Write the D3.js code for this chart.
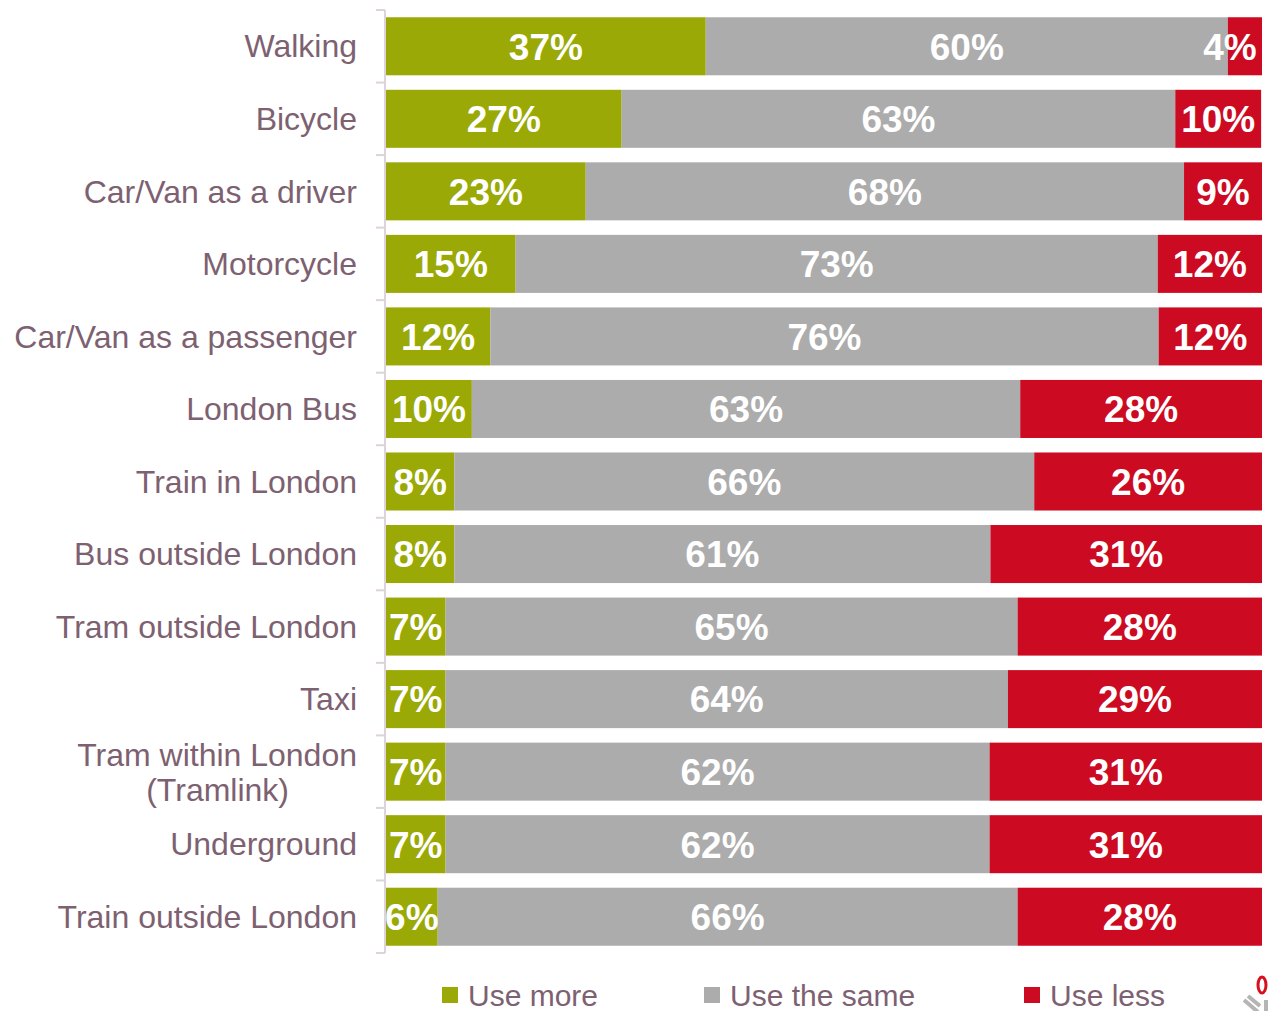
<!DOCTYPE html>
<html>
<head>
<meta charset="utf-8">
<script src="https://cdn.jsdelivr.net/npm/d3@7"></script>
<style>
  body { margin: 0; background: #fff; }
  svg { display: block; font-family: "Liberation Sans", Arial, sans-serif; }
</style>
</head>
<body>
<svg id="chart"></svg>
<script>
// categories, top to bottom
const modes = [
  'Walking', 'Bicycle', 'Car/Van as a driver', 'Motorcycle', 'Car/Van as a passenger',
  'London Bus', 'Train in London', 'Bus outside London', 'Tram outside London', 'Taxi',
  'Tram within London (Tramlink)', 'Underground', 'Train outside London'
];
const seriesNames = ['Use more', 'Use the same', 'Use less'];
// shares in %
const useMore = [36.5, 26.9, 22.8, 14.8, 11.9, 9.8, 7.8, 7.8, 6.8, 6.8, 6.8, 6.8, 5.9];
const useSame = [59.6, 63.2, 68.3, 73.3, 76.3, 62.6, 66.2, 61.2, 65.3, 64.2, 62.1, 62.1, 66.2];
const useLess = [3.9, 9.8, 8.9, 11.9, 11.9, 27.6, 26.0, 31.1, 27.9, 29.0, 31.1, 31.1, 27.9];
const colors = ['#9aa905', '#acacac', '#cc0a21'];

const width = 1270, height = 1011;
const margin = { top: 10, right: 8, bottom: 58, left: 386 };

const svg = d3.select('#chart').attr('width', width).attr('height', height);

const data = modes.map((m, i) => ({ mode: m, vals: [useMore[i], useSame[i], useLess[i]] }));

const yScale = d3.scaleBand()
  .domain(modes)
  .range([margin.top, height - margin.bottom])
  .paddingInner(0.2)
  .paddingOuter(0.1);

const xScale = d3.scaleLinear().domain([0, 100]).range([margin.left, width - margin.right]);

// axis line with ticks between categories
const axisX = margin.left - 1;
const axisG = svg.append('g').attr('class', 'axis');
axisG.append('line')
  .attr('x1', axisX).attr('x2', axisX)
  .attr('y1', margin.top).attr('y2', height - margin.bottom)
  .attr('stroke', '#ddd3d9').attr('stroke-width', 2);
const tickYs = d3.range(modes.length + 1).map(i =>
  margin.top + i * (height - margin.bottom - margin.top) / modes.length);
axisG.selectAll('.tick')
  .data(tickYs)
  .join('line')
  .attr('x1', axisX - 9).attr('x2', axisX)
  .attr('y1', d => d).attr('y2', d => d)
  .attr('stroke', '#ddd3d9').attr('stroke-width', 2);

// category labels
const labelG = svg.append('g');
data.forEach(d => {
  const yc = yScale(d.mode) + yScale.bandwidth() / 2;
  const t = labelG.append('text')
    .attr('x', 357)
    .attr('text-anchor', 'end')
    .attr('fill', '#7d6171')
    .attr('font-size', 32);
  if (d.mode === 'Tram within London (Tramlink)') {
    t.append('tspan').attr('x', 357).attr('y', yc - 17).attr('dy', '0.35em').text('Tram within London');
    t.append('tspan').attr('x', 289).attr('y', yc + 18).attr('dy', '0.35em').text('(Tramlink)');
  } else {
    t.attr('y', yc).attr('dy', '0.35em').text(d.mode);
  }
});

// stacked bars
const rows = svg.append('g').selectAll('g.row')
  .data(data)
  .join('g')
  .attr('class', 'row')
  .attr('transform', d => `translate(0,${yScale(d.mode)})`);

rows.each(function (d) {
  let acc = 0;
  const segs = d.vals.map((v, k) => {
    const s = { k, v, x0: acc, x1: acc + v };
    acc += v;
    return s;
  });
  const g = d3.select(this);
  g.selectAll('rect')
    .data(segs)
    .join('rect')
    .attr('x', s => xScale(s.x0))
    .attr('width', s => Math.min(xScale(s.x1), xScale.range()[1]) - xScale(s.x0))
    .attr('y', 0)
    .attr('height', yScale.bandwidth())
    .attr('fill', s => colors[s.k]);
  g.selectAll('text')
    .data(segs)
    .join('text')
    .attr('x', s => {
      const cx = (xScale(s.x0) + Math.min(xScale(s.x1), xScale.range()[1])) / 2;
      const w = String(Math.round(s.v)).length * 20 + 34;
      return Math.min(cx, 1257 - w / 2);
    })
    .attr('y', yScale.bandwidth() / 2)
    .attr('dy', '0.36em')
    .attr('text-anchor', 'middle')
    .attr('fill', '#fff')
    .attr('font-weight', 'bold')
    .attr('font-size', 37)
    .text(s => Math.round(s.v) + '%');
});

// legend
const legendX = [442, 704, 1024];
const legend = svg.append('g').selectAll('g')
  .data(seriesNames)
  .join('g')
  .attr('transform', (d, i) => `translate(${legendX[i]},993)`);
legend.append('rect')
  .attr('x', 0).attr('y', -6).attr('width', 16).attr('height', 16)
  .attr('fill', (d, i) => colors[i]);
legend.append('text')
  .attr('x', 26).attr('y', 2).attr('dy', '0.36em')
  .attr('fill', '#7d6171')
  .attr('font-size', 30)
  .text(d => d);

// small logo mark, bottom right
const logo = svg.append('g').attr('transform', 'translate(1262,988)');
logo.append('ellipse').attr('cx', 0).attr('cy', -3).attr('rx', 4).attr('ry', 8)
  .attr('fill', 'none').attr('stroke', '#d6101e').attr('stroke-width', 3);
logo.append('path').attr('d', 'M-18,12 L-4,24 M-14,8 L-2,18 M4,12 L4,24')
  .attr('stroke', '#b5b5b5').attr('stroke-width', 4).attr('fill', 'none');
</script>
</body>
</html>
